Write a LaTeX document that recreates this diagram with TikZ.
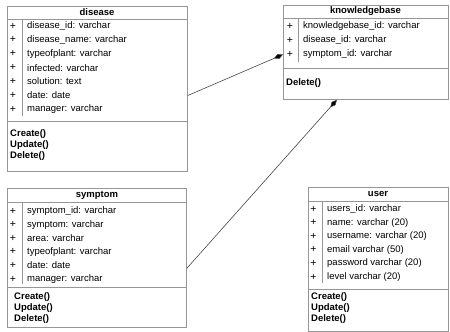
\documentclass[tikz,border=0pt]{standalone}
\usepackage{fontspec}
\setmainfont{Liberation Sans}
\usetikzlibrary{arrows.meta}

\definecolor{boxgray}{RGB}{150,150,150}
\definecolor{linkgray}{RGB}{70,70,70}

\tikzset{
	classbox/.style={draw=boxgray, line width=0.8pt, anchor=north west, inner sep=0pt},
	sepline/.style={draw=boxgray, line width=0.8pt},
	colline/.style={draw=boxgray, line width=0.6pt},
	classname/.style={inner sep=0pt, font=\bfseries\fontsize{9.5}{11}\selectfont},
	attr/.style={anchor=west, inner sep=0pt, font=\fontsize{9.5}{11}\selectfont},
	plus/.style={inner sep=0pt, font=\fontsize{10.5}{11}\selectfont},
	methods/.style={anchor=north west, align=left, inner sep=0pt, font=\bfseries\fontsize{9.5}{11}\selectfont},
	link/.style={draw=linkgray, line width=0.6pt, -{Diamond[length=10pt,width=5pt,fill=black]}}
}

\begin{document}
\begin{tikzpicture}[x=1pt,y=-1pt]

	\useasboundingbox (0,0) rectangle (450,332);

	% disease
	\node[classbox, minimum width=180pt, minimum height=165pt] (disease) at (7,6) {};
	\node[classname] (disease-title) at (97,12.5) {disease};
	\draw[sepline] (7,19) -- (187,19);
	\draw[colline] (22,19) -- (22,116);
	\foreach \txt [count=\i] in {disease\_id: varchar, disease\_name: varchar, typeofplant: varchar, infected: varchar, solution: text, date: date, manager: varchar}
	{
		\node[plus] at (13,{26+13.9*(\i-1)}) {+};
		\node[attr] (disease-\i) at (27,{26+13.9*(\i-1)}) {\txt};
	}
	\draw[sepline] (7,121) -- (187,121);
	\node[methods] (disease-ops) at (10,129) {Create()\\Update()\\Delete()};

	% knowledgebase
	\node[classbox, minimum width=165pt, minimum height=94pt] (kb) at (283,5) {};
	\node[classname] (kb-title) at (365.5,11.5) {knowledgebase};
	\draw[sepline] (283,18) -- (448,18);
	\draw[colline] (298,18) -- (298,62);
	\foreach \txt [count=\i] in {knowledgebase\_id: varchar, disease\_id: varchar, symptom\_id: varchar}
	{
		\node[plus] at (290,{26.5+14*(\i-1)}) {+};
		\node[attr] (kb-\i) at (303,{26.5+14*(\i-1)}) {\txt};
	}
	\draw[sepline] (283,68) -- (448,68);
	\node[methods] (kb-ops) at (286,78.5) {Delete()};

	% symptom
	\node[classbox, minimum width=179pt, minimum height=139pt] (symptom) at (7,188) {};
	\node[classname] (symptom-title) at (97,195) {symptom};
	\draw[sepline] (7,202) -- (186,202);
	\draw[colline] (22,202) -- (22,284);
	\foreach \txt [count=\i] in {symptom\_id: varchar, symptom: varchar, area: varchar, typeofplant: varchar, date: date, manager: varchar}
	{
		\node[plus] at (13,{211+13.6*(\i-1)}) {+};
		\node[attr] (symptom-\i) at (27,{211+13.6*(\i-1)}) {\txt};
	}
	\draw[sepline] (7,287) -- (186,287);
	\node[methods] (symptom-ops) at (14,292.5) {Create()\\Update()\\Delete()};

	% user
	\node[classbox, minimum width=140pt, minimum height=144pt] (user) at (308,187) {};
	\node[classname] (user-title) at (378,194) {user};
	\draw[sepline] (308,201) -- (448,201);
	\draw[colline] (322,201) -- (322,283);
	\foreach \txt [count=\i] in {users\_id: varchar, name: varchar (20), username: varchar (20), email varchar (50), password varchar (20), level varchar (20)}
	{
		\node[plus] at (313.5,{209+13.6*(\i-1)}) {+};
		\node[attr] (user-\i) at (327,{209+13.6*(\i-1)}) {\txt};
	}
	\draw[sepline] (308,289) -- (448,289);
	\node[methods] (user-ops) at (311,292) {Create()\\Update()\\Delete()};

	% Draw links
	\coordinate (kb-bottom) at ([xshift=-29pt]kb.south);
	\draw[link] (disease.east |- disease-6) -- (kb.west |- kb-3);
	\draw[link] ([yshift=-3pt]symptom.east |- symptom-5) -- (kb-bottom);

\end{tikzpicture}
\end{document}
